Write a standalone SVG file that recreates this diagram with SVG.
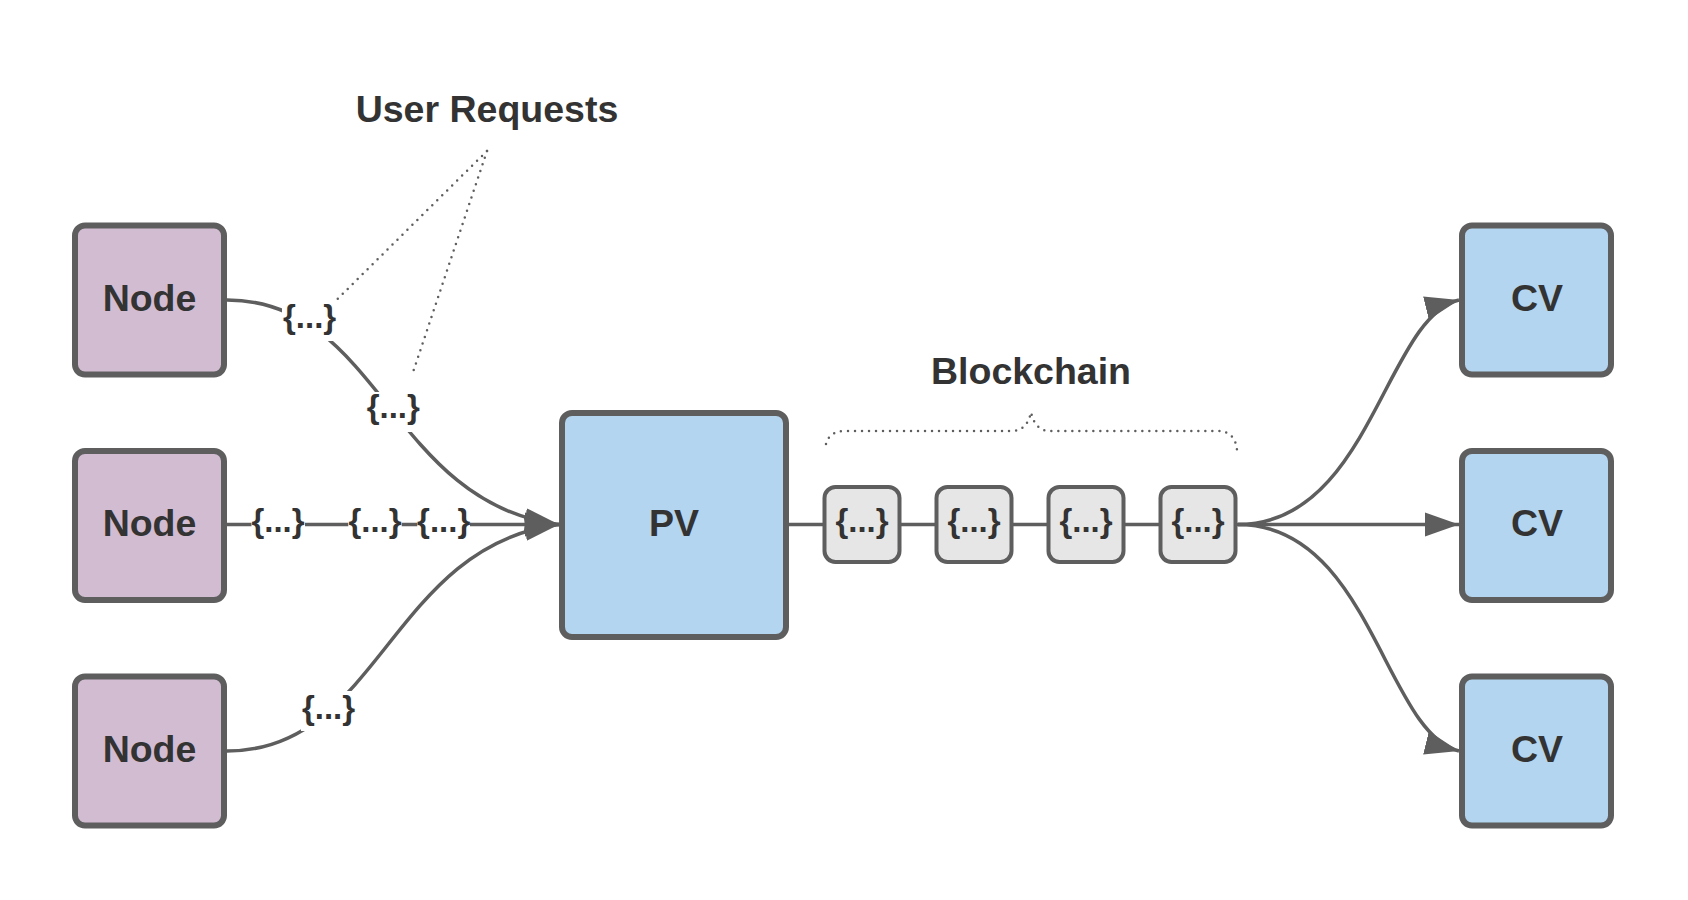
<svg xmlns="http://www.w3.org/2000/svg" width="1688" height="900" viewBox="0 0 1688 900">
<style>
.box{stroke:#5e5e5e;stroke-width:6}
.node{fill:#d2bcd2}
.blue{fill:#b3d5ef}
.blk{fill:#e6e6e6;stroke:#5e5e5e;stroke-width:4}
.t{font-family:"Liberation Sans",Arial,sans-serif;font-weight:bold;fill:#333333;text-anchor:middle}
.big{font-size:37.5px}
.lbl{font-size:33px}
.con{fill:none;stroke:#5e5e5e;stroke-width:3.5}
.dot{fill:none;stroke:#5e5e5e;stroke-width:2.5;stroke-linecap:round;stroke-dasharray:0 7}
.bg{fill:#ffffff}
</style>
<defs>
<marker id="arr" markerUnits="userSpaceOnUse" markerWidth="34" markerHeight="26" refX="34" refY="13" orient="auto">
<path d="M0,1 L34,13 L0,25 z" fill="#5e5e5e"/>
</marker>
</defs>
<rect width="1688" height="900" fill="#ffffff"/>
<g id="connectors">
<path class="con" d="M227,300 C380,300 390,503 559,524.5" marker-end="url(#arr)"/>
<path class="con" d="M227,524.5 L559,524.5" marker-end="url(#arr)"/>
<path class="con" d="M227,751 C380,751 390,546 559,524.5" marker-end="url(#arr)"/>
<path class="con" d="M789,524.5 L1238,524.5"/>
<path class="con" d="M1238,524.5 C1370,524.5 1385,318 1459,300" marker-end="url(#arr)"/>
<path class="con" d="M1238,524.5 L1459,524.5" marker-end="url(#arr)"/>
<path class="con" d="M1238,524.5 C1370,524.5 1385,733 1459,751" marker-end="url(#arr)"/>
<path class="dot" d="M487,151 L336,300.5"/>
<path class="dot" d="M487,151 L412.5,373.7"/>
<path class="dot" d="M826,444 Q829,431 846,431 L1012,431 Q1027,431 1031,412 Q1035,431 1050,431 L1218,431 Q1235,431 1237,450"/>
</g>
<g id="labels">
<rect class="bg" x="282" y="302" width="55" height="39"/>
<text class="t lbl" x="309.6" y="328">{...}</text>
<rect class="bg" x="366" y="392" width="54" height="40"/>
<text class="t lbl" x="393.3" y="418">{...}</text>
<rect class="bg" x="251.5" y="506" width="53.5" height="38"/>
<text class="t lbl" x="278" y="531.7">{...}</text>
<rect class="bg" x="348.3" y="506" width="53.4" height="38"/>
<text class="t lbl" x="375" y="531.7">{...}</text>
<rect class="bg" x="417.3" y="506" width="52.7" height="38"/>
<text class="t lbl" x="443.7" y="531.7">{...}</text>
<rect class="bg" x="301" y="691" width="56" height="40"/>
<text class="t lbl" x="328.5" y="719">{...}</text>
<text class="t big" x="487" y="122">User Requests</text>
<text class="t big" x="1031" y="384">Blockchain</text>
</g>
<g id="node1"><rect class="box node" x="75" y="225.5" width="149" height="149" rx="10"/><text class="t big" x="149.5" y="310.5">Node</text></g>
<g id="node2"><rect class="box node" x="75" y="451" width="149" height="149" rx="10"/><text class="t big" x="149.5" y="536">Node</text></g>
<g id="node3"><rect class="box node" x="75" y="676.5" width="149" height="149" rx="10"/><text class="t big" x="149.5" y="761.5">Node</text></g>
<g id="pv"><rect class="box blue" x="562" y="413" width="224" height="224" rx="10"/><text class="t big" x="674" y="535.5">PV</text></g>
<g id="block1"><rect class="blk" x="824.5" y="487" width="75" height="75" rx="11"/><text class="t lbl" x="862" y="531.5">{...}</text></g>
<g id="block2"><rect class="blk" x="936.5" y="487" width="75" height="75" rx="11"/><text class="t lbl" x="974" y="531.5">{...}</text></g>
<g id="block3"><rect class="blk" x="1048.5" y="487" width="75" height="75" rx="11"/><text class="t lbl" x="1086" y="531.5">{...}</text></g>
<g id="block4"><rect class="blk" x="1160.5" y="487" width="75" height="75" rx="11"/><text class="t lbl" x="1198" y="531.5">{...}</text></g>
<g id="cv1"><rect class="box blue" x="1462" y="225.5" width="149" height="149" rx="10"/><text class="t big" x="1537" y="310.5">CV</text></g>
<g id="cv2"><rect class="box blue" x="1462" y="451" width="149" height="149" rx="10"/><text class="t big" x="1537" y="536">CV</text></g>
<g id="cv3"><rect class="box blue" x="1462" y="676.5" width="149" height="149" rx="10"/><text class="t big" x="1537" y="761.5">CV</text></g>
</svg>
